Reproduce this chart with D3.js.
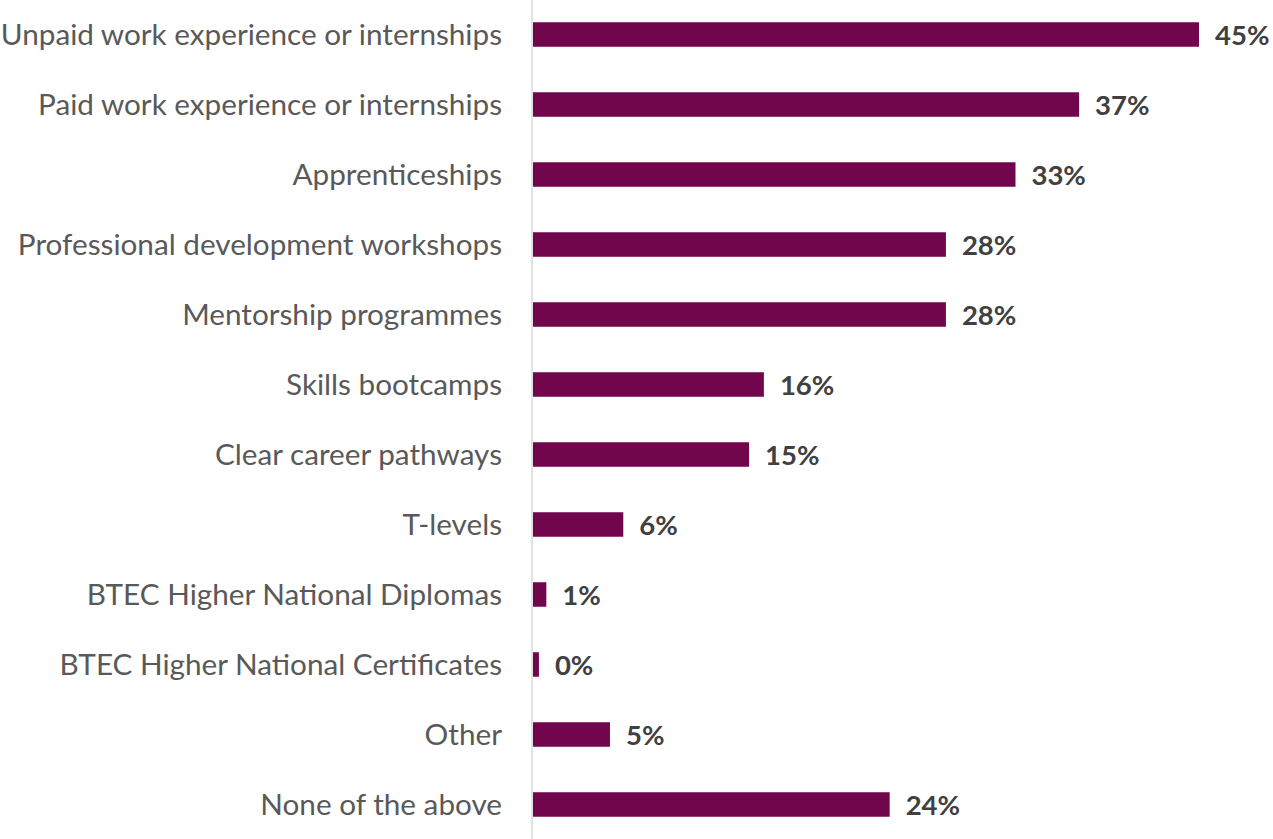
<!DOCTYPE html>
<html>
<head>
<meta charset="utf-8">
<script src="https://cdn.jsdelivr.net/npm/d3@7"></script>
<style>
  html, body { margin: 0; padding: 0; background: #fff; }
  svg { display: block; }
</style>
</head>
<body>
<svg id="chart" width="1273" height="839"></svg>
<script>
const categories = [
  "Unpaid work experience or internships",
  "Paid work experience or internships",
  "Apprenticeships",
  "Professional development workshops",
  "Mentorship programmes",
  "Skills bootcamps",
  "Clear career pathways",
  "T-levels",
  "BTEC Higher National Diplomas",
  "BTEC Higher National Certificates",
  "Other",
  "None of the above"
];
const values = [45, 36.9, 32.6, 27.9, 27.9, 15.6, 14.6, 6.1, 0.9, 0.4, 5.2, 24.1];

const W = 1273, H = 839;
const svg = d3.select("#chart");

const x = d3.scaleLinear().domain([0, 45]).range([533, 1199]);
const y = d3.scaleBand().domain(categories).range([0, H]).paddingInner(0.65).paddingOuter(0.318);

const fmt = v => Math.round(v) + "%";

// category labels
svg.append("g").selectAll("text").data(categories).join("text")
  .attr("x", 502)
  .attr("y", d => y(d) + y.bandwidth() / 2)
  .attr("dy", "0.35em")
  .attr("text-anchor", "end")
  .attr("font-family", "Lato, 'Noto Sans', sans-serif")
  .attr("font-size", 29.7)
  .attr("fill", "#595959")
  .text(d => d);

// bars
svg.append("g").selectAll("rect").data(values).join("rect")
  .attr("x", x(0))
  .attr("y", (d, i) => y(categories[i]))
  .attr("width", d => x(d) - x(0))
  .attr("height", y.bandwidth())
  .attr("fill", "#71064D");

// value labels
svg.append("g").selectAll("text").data(values).join("text")
  .attr("x", d => x(d) + 16)
  .attr("y", (d, i) => y(categories[i]) + y.bandwidth() / 2)
  .attr("dy", "0.37em")
  .attr("font-family", "Lato, 'Noto Sans', sans-serif")
  .attr("font-weight", "bold")
  .attr("font-size", 27.5)
  .attr("fill", "#404040")
  .text(d => fmt(d));

// axis line
svg.append("line")
  .attr("x1", 532).attr("x2", 532)
  .attr("y1", 0).attr("y2", H)
  .attr("stroke", "#d9d9d9")
  .attr("stroke-width", 1.5);
</script>
</body>
</html>
